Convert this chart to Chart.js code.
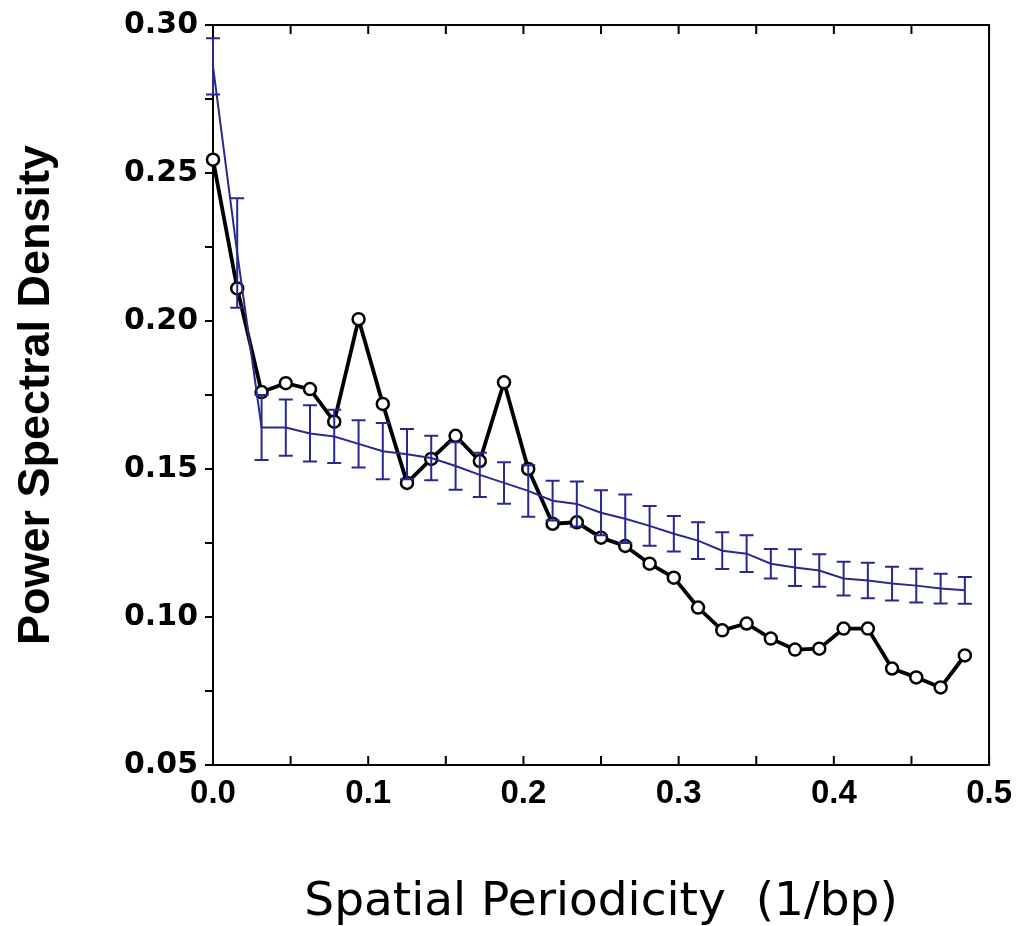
<!DOCTYPE html>
<html>
<head>
<meta charset="utf-8">
<script src="https://cdn.jsdelivr.net/npm/chart.js@4/dist/chart.umd.min.js"></script>
<style>
html,body{margin:0;padding:0;background:#ffffff;}
canvas{display:block;}
</style>
</head>
<body>
<canvas id="c" width="1021" height="926"></canvas>
<script>
// ---- data ----
const frequency = [0.0000, 0.0156, 0.0313, 0.0469, 0.0625, 0.0781, 0.0938, 0.1094,
                   0.1250, 0.1406, 0.1563, 0.1719, 0.1875, 0.2031, 0.2188, 0.2344,
                   0.2500, 0.2656, 0.2813, 0.2969, 0.3125, 0.3281, 0.3438, 0.3594,
                   0.3750, 0.3906, 0.4063, 0.4219, 0.4375, 0.4531, 0.4688, 0.4844];

const observedPSD = [0.2545, 0.211, 0.176, 0.179, 0.177, 0.166, 0.2006, 0.172,
                     0.1453, 0.1534, 0.1612, 0.1527, 0.1793, 0.150, 0.1315, 0.132,
                     0.1268, 0.124, 0.118, 0.1133, 0.1032, 0.0955, 0.0978, 0.0927,
                     0.0890, 0.0893, 0.0961, 0.0961, 0.0826, 0.0796, 0.0762, 0.0870];

const randomMean = [0.286, 0.223, 0.164, 0.164, 0.162, 0.161, 0.1585, 0.156,
                    0.155, 0.1537, 0.151, 0.148, 0.1453, 0.1426, 0.1393, 0.1382,
                    0.1352, 0.1332, 0.1308, 0.1281, 0.1258, 0.1224, 0.1214, 0.118,
                    0.1167, 0.1157, 0.113, 0.1123, 0.1113, 0.1106, 0.1096, 0.109];

const randomErr = [0.0095, 0.0185, 0.011, 0.0095, 0.0095, 0.009, 0.008, 0.0095,
                   0.0085, 0.0075, 0.008, 0.0075, 0.007, 0.0087, 0.0067, 0.0076,
                   0.0076, 0.0082, 0.0067, 0.006, 0.0062, 0.0062, 0.0062, 0.005,
                   0.0062, 0.0055, 0.0057, 0.006, 0.0057, 0.0057, 0.005, 0.0045];

const xTickLabels = ['0.0', '0.1', '0.2', '0.3', '0.4', '0.5'];
const yTickLabels = ['0.05', '0.10', '0.15', '0.20', '0.25', '0.30'];

const xTitle = 'Spatial Periodicity  (1/bp)';
const yTitle = 'Power Spectral Density';

// ---- styling ----
const BLUE = '#28288f';

function labelFor(list, v) {
  const hit = list.find(s => Math.abs(parseFloat(s) - v) < 1e-6);
  return hit === undefined ? '' : hit;
}

const framePlugin = {
  id: 'framePlugin',
  afterDatasetsDraw(chart) {
    const {ctx, chartArea: a, scales: {x, y}} = chart;
    ctx.save();
    // error bars of the reference series
    ctx.strokeStyle = BLUE;
    ctx.lineWidth = 2;
    ctx.beginPath();
    frequency.forEach((f, i) => {
      const px = x.getPixelForValue(f);
      const yt = y.getPixelForValue(randomMean[i] + randomErr[i]);
      const yb = y.getPixelForValue(randomMean[i] - randomErr[i]);
      ctx.moveTo(px, yt); ctx.lineTo(px, yb);
      ctx.moveTo(px - 7, yt); ctx.lineTo(px + 7, yt);
      ctx.moveTo(px - 7, yb); ctx.lineTo(px + 7, yb);
    });
    ctx.stroke();
    // top and right frame lines
    ctx.strokeStyle = '#000';
    ctx.lineWidth = 2;
    ctx.beginPath();
    ctx.moveTo(a.left - 1, a.top);
    ctx.lineTo(a.right, a.top);
    ctx.lineTo(a.right, a.bottom + 1);
    ctx.stroke();
    // inward ticks on bottom and top
    ctx.beginPath();
    x.ticks.forEach(t => {
      const px = x.getPixelForValue(t.value);
      ctx.moveTo(px, a.bottom); ctx.lineTo(px, a.bottom - 9);
      ctx.moveTo(px, a.top); ctx.lineTo(px, a.top + 9);
    });
    ctx.stroke();
    ctx.restore();
  }
};

new Chart(document.getElementById('c'), {
  type: 'line',
  data: {
    datasets: [
      {
        label: 'Random sequences',
        data: frequency.map((f, i) => ({x: f, y: randomMean[i]})),
        borderColor: BLUE,
        borderWidth: 2,
        pointRadius: 0,
        tension: 0,
        clip: false
      },
      {
        label: 'Observed',
        data: frequency.map((f, i) => ({x: f, y: observedPSD[i]})),
        borderColor: '#000000',
        borderWidth: 3.8,
        pointRadius: 6,
        pointBorderWidth: 2.5,
        pointBackgroundColor: '#ffffff',
        pointBorderColor: '#000000',
        tension: 0,
        clip: false
      }
    ]
  },
  options: {
    responsive: false,
    devicePixelRatio: 1,
    animation: false,
    layout: {padding: {top: 23, right: 30, left: 0, bottom: 0}},
    plugins: {legend: {display: false}, tooltip: {enabled: false}},
    scales: {
      x: {
        type: 'linear',
        min: 0,
        max: 0.5,
        afterFit(s) { s.height = 161; },
        grid: {display: true, drawOnChartArea: false, drawTicks: false},
        border: {display: true, color: '#000', width: 2},
        ticks: {
          stepSize: 0.05,
          autoSkip: false,
          maxRotation: 0,
          padding: 9,
          color: '#000',
          font: {family: 'Liberation Sans', weight: 'bold', size: 33},
          callback: v => labelFor(xTickLabels, v)
        },
        title: {
          display: true,
          text: xTitle,
          color: '#000',
          padding: {top: 0, bottom: 0},
          font: {family: 'DejaVu Sans', size: 47, lineHeight: 1}
        }
      },
      y: {
        type: 'linear',
        min: 0.05,
        max: 0.30,
        afterFit(s) { s.width = 213; },
        grid: {display: true, drawOnChartArea: false, drawTicks: true, tickLength: 8, color: '#000', lineWidth: 2},
        border: {display: true, color: '#000', width: 2},
        ticks: {
          stepSize: 0.025,
          autoSkip: false,
          padding: 7,
          color: '#000',
          font: {family: 'DejaVu Sans', weight: 'bold', size: 30},
          callback: v => labelFor(yTickLabels, v)
        },
        title: {
          display: true,
          text: yTitle,
          color: '#000',
          padding: {top: 14, bottom: 0},
          font: {family: 'Liberation Sans', weight: 'bold', size: 45, lineHeight: 1}
        }
      }
    }
  },
  plugins: [framePlugin]
});
</script>
</body>
</html>
